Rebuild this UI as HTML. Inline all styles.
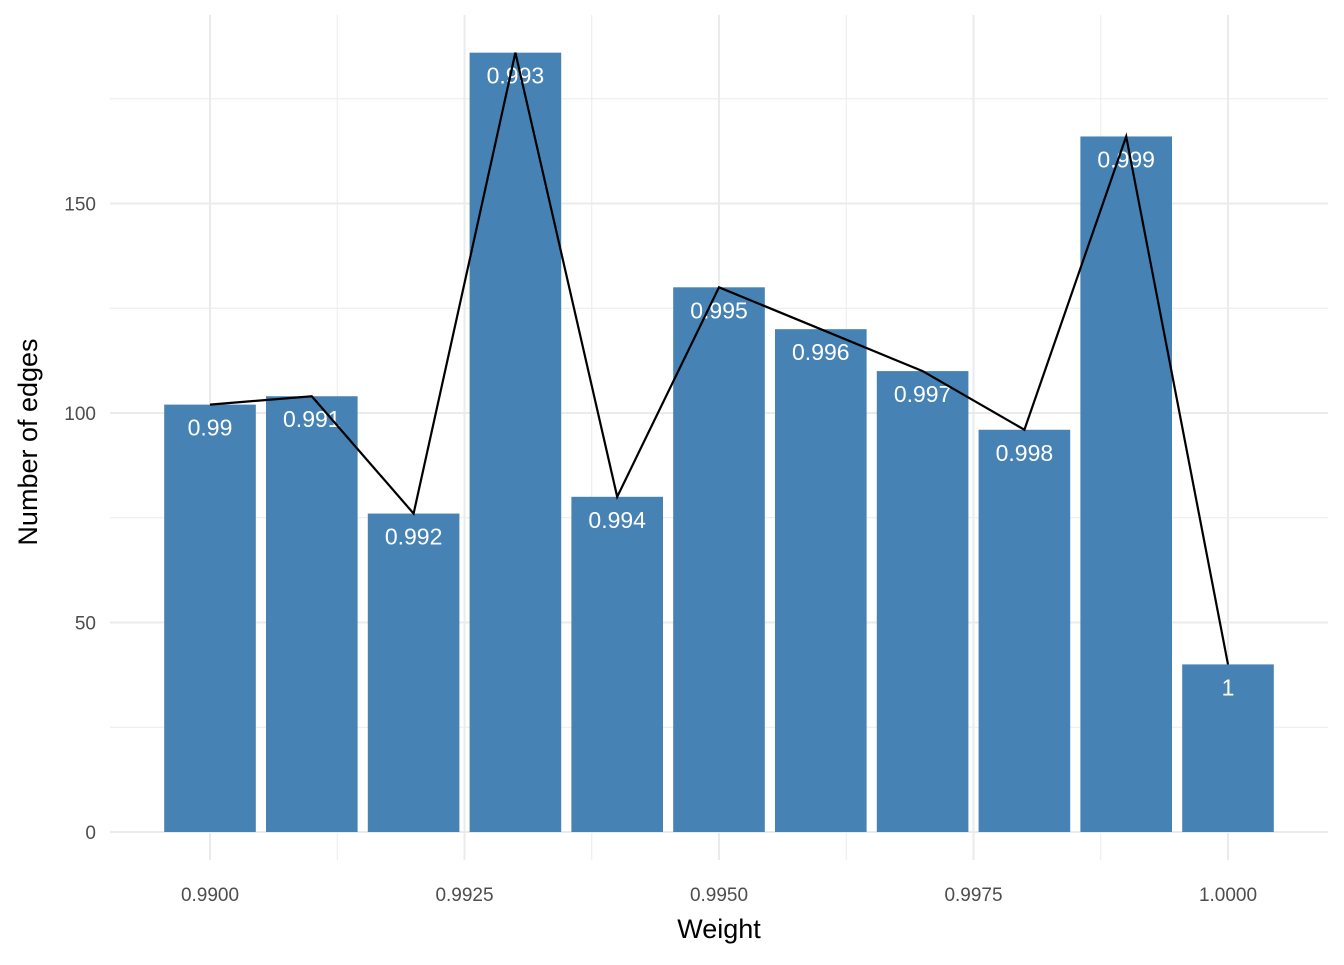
<!DOCTYPE html>
<html><head><meta charset="utf-8"><style>
body{margin:0;background:#fff}
svg{font-family:"Liberation Sans","DejaVu Sans",sans-serif}
</style></head><body>
<svg id="chart" width="1344" height="960" xmlns="http://www.w3.org/2000/svg">
<g id="grid"></g>
<g id="bars"></g>
<g id="labels"></g>
<g id="line"></g>
<g id="axes"></g>
<text x="719" y="938" text-anchor="middle" font-size="27" fill="#000">Weight</text>
<text transform="translate(37,442) rotate(-90)" text-anchor="middle" font-size="27" fill="#000">Number of edges</text>
</svg>
<script>
const categories=[0.990,0.991,0.992,0.993,0.994,0.995,0.996,0.997,0.998,0.999,1.000];
const labelsText=["0.99","0.991","0.992","0.993","0.994","0.995","0.996","0.997","0.998","0.999","1"];
const counts=[102,104,76,186,80,130,120,110,96,166,40];
const yTicks=[0,50,100,150];
const yMinor=[25,75,125,175];
const xTicks=[0.99,0.9925,0.995,0.9975,1.0];
const xTickLabels=["0.9900","0.9925","0.9950","0.9975","1.0000"];
const xMinor=[0.99125,0.99375,0.99625,0.99875];
const NS="http://www.w3.org/2000/svg";
const x=v=>210+(v-0.99)*101800;
const y=v=>832-4.19*v;
const L=110,R=1328,T=15,B=860;
function mk(tag,attrs,parent){const e=document.createElementNS(NS,tag);for(const k in attrs)e.setAttribute(k,attrs[k]);parent.appendChild(e);return e;}
const grid=document.getElementById('grid');
yMinor.forEach(v=>{const l=mk('line',{x1:L,x2:R,y1:y(v),y2:y(v),stroke:'#ebebeb','stroke-width':1},grid);

});
xMinor.forEach(v=>{const l=mk('line',{x1:x(v),x2:x(v),y1:T,y2:B,stroke:'#ebebeb','stroke-width':1},grid);

});
yTicks.forEach(v=>{const l=mk('line',{x1:L,x2:R,y1:y(v),y2:y(v),stroke:'#ebebeb','stroke-width':2},grid);

});
xTicks.forEach(v=>{const l=mk('line',{x1:x(v),x2:x(v),y1:T,y2:B,stroke:'#ebebeb','stroke-width':2},grid);

});
const bars=document.getElementById('bars'),lab=document.getElementById('labels');
const bw=0.0009*101800;
categories.forEach((c,i)=>{
 const r=mk('rect',{x:x(c)-bw/2,y:y(counts[i]),width:bw,height:y(0)-y(counts[i]),fill:'#4682b4'},bars);
 
 
 const t=mk('text',{x:x(c),y:y(counts[i])+31,'text-anchor':'middle','font-size':23,fill:'#fff'},lab);
 t.textContent=labelsText[i];
 
 
});
const pl=mk('polyline',{points:categories.map((c,i)=>x(c)+','+y(counts[i])).join(' '),fill:'none',stroke:'#000','stroke-width':2.2},document.getElementById('line'));


const axes=document.getElementById('axes');
yTicks.forEach(v=>{const t=mk('text',{x:96,y:y(v)+7,'text-anchor':'end','font-size':19,fill:'#4d4d4d'},axes);t.textContent=v;

});
xTicks.forEach((v,i)=>{const t=mk('text',{x:x(v),y:901,'text-anchor':'middle','font-size':19,fill:'#4d4d4d'},axes);t.textContent=xTickLabels[i];

});
</script>
</body></html>
